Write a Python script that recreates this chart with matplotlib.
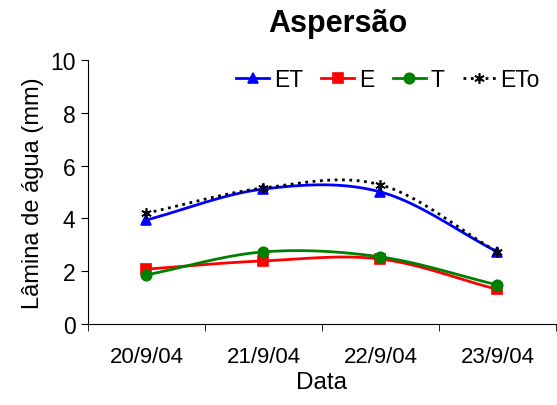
import numpy as np
import matplotlib
matplotlib.use("Agg")
import matplotlib.pyplot as plt

plt.rcParams['font.family'] = ['Liberation Sans', 'DejaVu Sans']

# Data
dates = ['20/9/04', '21/9/04', '22/9/04', '23/9/04']
et = [3.94, 5.11, 5.00, 2.73]
e = [2.08, 2.39, 2.46, 1.31]
t = [1.86, 2.73, 2.54, 1.48]
eto = [4.20, 5.15, 5.27, 2.73]


def smooth(x, y, n=30):
    # Catmull-Rom curve through the points, like Excel's smoothed line
    x = np.asarray(x, float)
    y = np.asarray(y, float)
    px = np.concatenate([[2 * x[0] - x[1]], x, [2 * x[-1] - x[-2]]])
    py = np.concatenate([[2 * y[0] - y[1]], y, [2 * y[-1] - y[-2]]])
    xs, ys = [], []
    s = np.linspace(0, 1, n)
    for i in range(1, len(px) - 2):
        for p, out in ((px, xs), (py, ys)):
            p0, p1, p2, p3 = p[i - 1], p[i], p[i + 1], p[i + 2]
            out.extend(0.5 * (2 * p1 + (-p0 + p2) * s
                              + (2 * p0 - 5 * p1 + 4 * p2 - p3) * s ** 2
                              + (-p0 + 3 * p1 - 3 * p2 + p3) * s ** 3))
    return np.array(xs), np.array(ys)


x = np.arange(1, len(dates) + 1)

fig = plt.figure(figsize=(5.57, 4.06), dpi=100)
ax = fig.add_axes([0.158, 0.1995, 0.84, 0.6505])

series = [
    (et, 'ET', 'blue', '^', '-'),
    (e, 'E', 'red', 's', '-'),
    (t, 'T', 'green', 'o', '-'),
    (eto, 'ETo', 'black', (6, 2, 0), ':'),
]
handles = []
for vals, name, col, mk, ls in series:
    sx, sy = smooth(x, vals)
    ax.plot(sx, sy, color=col, lw=2, ls=ls)
    ax.plot(x, vals, ls='none', marker=mk, color=col, ms=7.5, mew=1.2)
    h, = ax.plot([], [], color=col, lw=2, ls=ls, marker=mk, ms=7.5, mew=1.2)
    handles.append(h)

ax.set_xlim(0.5, 4.5)
ax.set_ylim(0, 10)
ax.set_yticks(range(0, 11, 2))
ax.set_xticks(x)
ax.set_xticklabels(dates)
ax.set_xticks(np.arange(0.5, 4.6, 1), minor=True)
ax.tick_params(axis='x', which='major', length=0, labelsize=16, pad=16)
ax.tick_params(axis='x', which='minor', length=5, direction='out')
ax.tick_params(axis='y', labelsize=16.5, length=5, direction='out', pad=4)
for side in ['top', 'right']:
    ax.spines[side].set_visible(False)

ax.set_title('Aspersão', fontsize=22, fontweight='bold', pad=21, x=0.535)
ax.set_xlabel('Data', fontsize=17.5, labelpad=3)
ax.set_ylabel('Lâmina de água (mm)', fontsize=17, labelpad=4)

ax.legend(handles, ['ET', 'E', 'T', 'ETo'], ncol=4, frameon=False,
          loc='upper right', bbox_to_anchor=(1.0, 1.03), fontsize=16.5,
          handlelength=1.45, columnspacing=0.8, handletextpad=0.2,
          borderpad=0.2)

fig.savefig('out.png', dpi=100)
